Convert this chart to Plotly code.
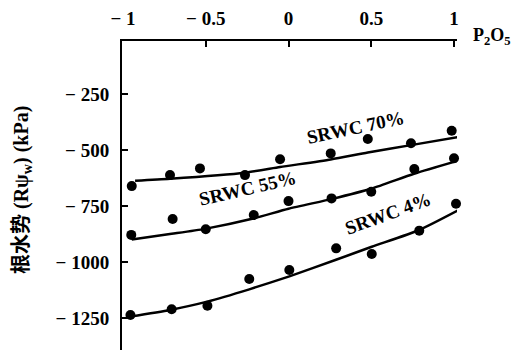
import plotly.graph_objects as go

# measured points
x70 = [-0.947, -0.716, -0.535, -0.263, -0.051, 0.255, 0.479, 0.740, 0.986]
y70 = [-661, -612, -582, -612, -541, -515, -451, -470, -414]
x55 = [-0.95, -0.70, -0.50, -0.21, 0.0, 0.26, 0.50, 0.76, 1.00]
y55 = [-879, -808, -854, -790, -728, -716, -686, -585, -537]
x4 = [-0.955, -0.706, -0.49, -0.237, 0.005, 0.288, 0.503, 0.790, 1.012]
y4 = [-1237, -1211, -1195, -1076, -1036, -939, -964, -860, -740]

# fitted curves
lx70 = [-0.927, -0.716, -0.263, -0.051, 0.255, 0.479, 0.740, 1.036]
ly70 = [-637, -628, -601, -576, -542, -511, -478, -441]
lx55 = [-0.947, -0.706, -0.505, -0.213, 0.0, 0.265, 0.503, 0.758, 1.036]
ly55 = [-899, -874, -852, -806, -762, -718, -672, -606, -545]
lx4 = [-0.958, -0.716, -0.491, -0.237, 0.005, 0.287, 0.503, 0.790, 1.036]
ly4 = [-1244, -1214, -1177, -1122, -1064, -990, -932, -857, -765]

xticks = [-1, -0.5, 0, 0.5, 1]
xticktext = ["\u2212 1", "\u2212 0.5", "0", "0.5", "1"]
yticks = [-250, -500, -750, -1000, -1250]
yticktext = ["\u2212 250", "\u2212 500", "\u2212 750", "\u2212 1000", "\u2212 1250"]

serif = "Liberation Serif"
L, R, T, B, W, H = 122, 56, 41, 0, 513, 350
pw, ph = W - L - R, H - T - B


def px(x):
    return (x - L) / pw


def py(y):
    return (H - B - y) / ph


fig = go.Figure()
for lx, ly in [(lx70, ly70), (lx55, ly55), (lx4, ly4)]:
    fig.add_trace(go.Scatter(x=lx, y=ly, mode="lines", cliponaxis=False,
                             line=dict(color="black", width=2.5, shape="spline", smoothing=0.6),
                             showlegend=False, hoverinfo="skip"))
for xs, ys in [(x70, y70), (x55, y55), (x4, y4)]:
    fig.add_trace(go.Scatter(x=xs, y=ys, mode="markers", cliponaxis=False,
                             marker=dict(color="black", size=10), showlegend=False))

fig.update_layout(
    width=W, height=H,
    margin=dict(l=L, r=R, t=T, b=B, autoexpand=False),
    plot_bgcolor="white", paper_bgcolor="white",
    font=dict(family=serif, size=19, color="black", weight="bold"),
    xaxis=dict(range=[-1.006, 1.018], side="top", showline=True, linecolor="black", linewidth=2,
               ticks="inside", ticklen=6, tickwidth=2, tickcolor="black", automargin=False,
               tickvals=xticks, ticktext=xticktext, showgrid=False, zeroline=False,
               ticklabelstandoff=6),
    yaxis=dict(range=[-1393, -13], showline=True, linecolor="black", linewidth=2,
               ticks="inside", ticklen=6, tickwidth=2, tickcolor="black", automargin=False,
               tickvals=yticks, ticktext=yticktext, showgrid=False, zeroline=False,
               ticklabelstandoff=7),
)

fig.add_annotation(x=px(492), y=py(37), xref="paper", yref="paper", text="P<sub>2</sub>O<sub>5</sub>",
                   showarrow=False, font=dict(size=18), xanchor="center", yanchor="middle")

fig.add_annotation(x=px(22), y=py(190), xref="paper", yref="paper", xanchor="center", yanchor="middle",
                   text="根水势 (Rψ<sub>w</sub>) (kPa)", textangle=-90, showarrow=False,
                   font=dict(family="Liberation Serif, Noto Sans CJK SC", size=20))

for txt, cx, cy, ang in [("SRWC 70%", 355, 127, -12), ("SRWC 55%", 247, 188, -13),
                         ("SRWC 4%", 388, 213, -20)]:
    fig.add_annotation(x=px(cx), y=py(cy), xref="paper", yref="paper", text=txt,
                       xanchor="center", yanchor="middle",
                       textangle=ang, showarrow=False, font=dict(size=19))

fig.write_html("out.html", config={"displayModeBar": False},
               post_script="document.body.style.margin='0';document.body.style.padding='0';")
